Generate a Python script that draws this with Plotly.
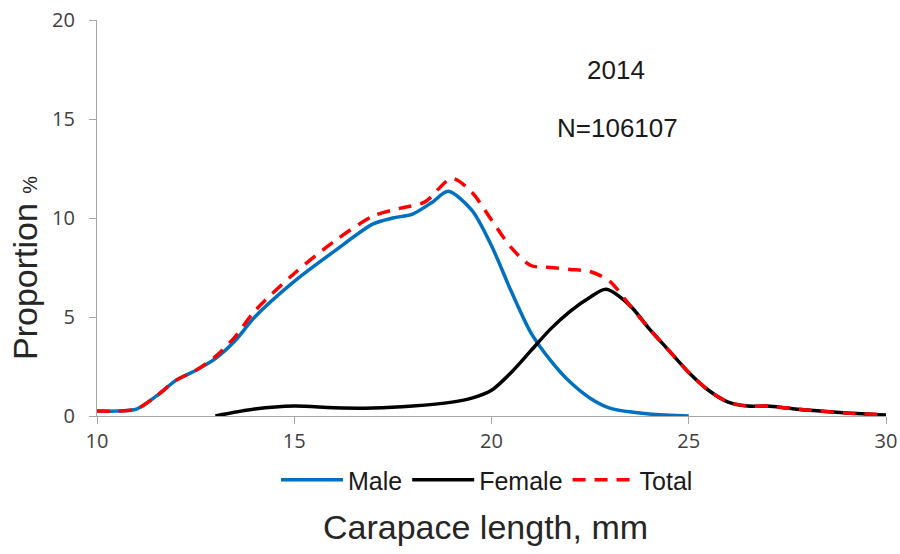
import plotly.graph_objects as go

male_x = [10, 10.5, 11, 11.5, 12, 12.5, 13, 13.5, 14, 15, 16, 17, 17.5, 18, 18.5, 18.9, 19.5, 20, 20.5, 21, 21.5, 22, 22.5, 23, 24, 25]
male_y = [0.25, 0.25, 0.35, 1.0, 1.8, 2.3, 2.9, 3.8, 5.0, 6.8, 8.3, 9.7, 10.0, 10.2, 10.8, 11.35, 10.4, 8.6, 6.3, 4.2, 2.8, 1.7, 0.9, 0.4, 0.1, 0.0]

female_x = [13, 14, 15, 16, 17, 18, 19, 19.5, 20, 20.5, 21, 21.5, 22, 22.5, 22.9, 23.5, 24, 24.5, 25, 25.5, 26, 26.5, 27, 27.5, 28, 29, 30]
female_y = [0.0, 0.35, 0.5, 0.42, 0.4, 0.5, 0.7, 0.9, 1.3, 2.2, 3.3, 4.4, 5.3, 6.0, 6.4, 5.6, 4.4, 3.3, 2.2, 1.3, 0.7, 0.5, 0.5, 0.4, 0.3, 0.15, 0.05]

total_x = [10, 10.5, 11, 11.5, 12, 12.5, 13, 13.5, 14, 15, 16, 17, 17.7, 18.3, 19.0, 19.5, 20, 20.5, 21, 21.5, 22, 22.5, 23, 23.5, 24, 24.5, 25, 25.5, 26, 26.5, 27, 27.5, 28, 29, 30]
total_y = [0.25, 0.25, 0.35, 1.0, 1.8, 2.3, 3.0, 4.0, 5.3, 7.2, 8.8, 10.1, 10.5, 10.8, 12.0, 11.3, 9.9, 8.5, 7.6, 7.5, 7.4, 7.3, 6.8, 5.6, 4.4, 3.3, 2.2, 1.3, 0.7, 0.5, 0.5, 0.4, 0.3, 0.15, 0.05]

x_ticks = [10, 15, 20, 25, 30]
y_ticks = [0, 5, 10, 15, 20]

W, H = 900, 554
L, R, T, B = 97, 14, 20, 138
PW, PH = W - L - R, H - T - B


def px(x):
    return (x - L) / PW


def py(y):
    return (H - B - y) / PH


fig = go.Figure()
fig.add_trace(go.Scatter(x=male_x, y=male_y, mode="lines", name="Male",
                         line=dict(color="#0070C0", width=3.5, shape="spline", smoothing=0.8)))
fig.add_trace(go.Scatter(x=female_x, y=female_y, mode="lines", name="Female",
                         line=dict(color="black", width=3.5, shape="spline", smoothing=0.8)))
fig.add_trace(go.Scatter(x=total_x, y=total_y, mode="lines", name="Total",
                         line=dict(color="#FF0000", width=3.5, dash="13px,9px", shape="spline", smoothing=0.8)))

fig.update_layout(
    width=W, height=H,
    margin=dict(l=L, r=R, t=T, b=B, autoexpand=False),
    paper_bgcolor="white", plot_bgcolor="white",
    font=dict(family="Liberation Sans, Arial, sans-serif", color="#262626"),
    showlegend=True,
    legend=dict(orientation="h", x=px(487), xanchor="center", y=py(480), yanchor="middle",
                font=dict(size=25, color="#1a1a1a"), itemwidth=62, traceorder="normal",
                bgcolor="rgba(0,0,0,0)"),
    annotations=[
        dict(text="2014", x=px(616), y=py(70), xref="paper", yref="paper", showarrow=False,
             xanchor="center", yanchor="middle", font=dict(size=26, color="#1a1a1a")),
        dict(text="N=106107", x=px(617), y=py(128), xref="paper", yref="paper", showarrow=False,
             xanchor="center", yanchor="middle", font=dict(size=26, color="#1a1a1a")),
        dict(text="Carapace length, mm", x=px(485), y=py(527), xref="paper", yref="paper",
             xanchor="center", yanchor="middle",
             showarrow=False, font=dict(size=34, color="#262626")),
        dict(text="Proportion <span style='font-size:20px'>%</span>", x=px(25), y=py(268),
             xref="paper", yref="paper", showarrow=False, textangle=-90,
             xanchor="center", yanchor="middle",
             font=dict(size=34, color="#262626")),
    ],
)
fig.update_xaxes(range=[10, 30], tickvals=x_ticks, showgrid=False, zeroline=False,
                 showline=True, linecolor="#A6A6A6", linewidth=1.2, automargin=False,
                 ticks="outside", ticklen=7, tickcolor="#A6A6A6",
                 ticklabelstandoff=0,
                 tickfont=dict(size=20, color="#404040", family="Open Sans, sans-serif"))
fig.update_yaxes(range=[0, 20], tickvals=y_ticks, showgrid=False, zeroline=False,
                 showline=True, linecolor="#A6A6A6", linewidth=1.2, automargin=False,
                 ticks="outside", ticklen=7, tickcolor="#A6A6A6",
                 ticklabelstandoff=10,
                 tickfont=dict(size=20, color="#404040", family="Open Sans, sans-serif"))

fig.write_html("out.html", config={"displayModeBar": False},
               post_script="document.body.style.margin='0px';document.body.style.overflow='hidden';")
